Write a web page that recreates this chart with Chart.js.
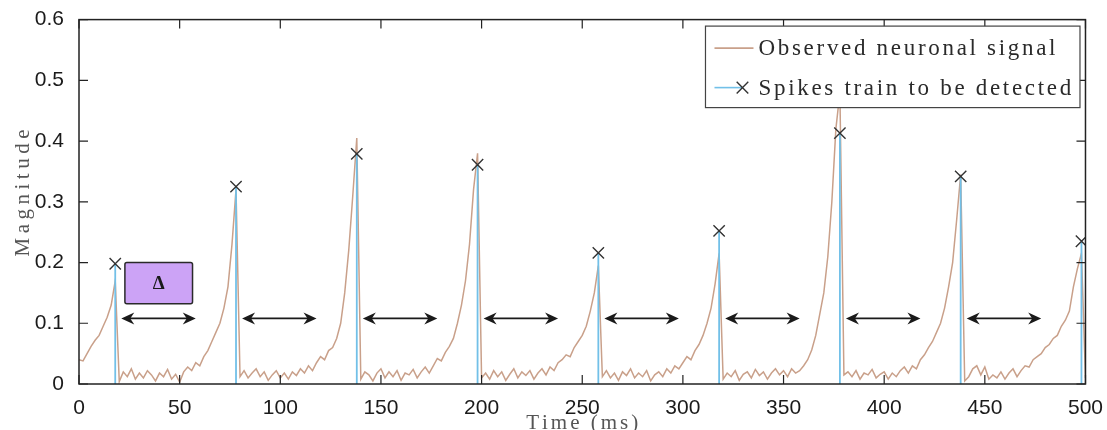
<!DOCTYPE html>
<html>
<head>
<meta charset="utf-8">
<script src="https://cdn.jsdelivr.net/npm/chart.js@4.4.1/dist/chart.umd.min.js"></script>
<style>
  body { margin: 0; background: #fff; }
  #wrap { width: 1107px; height: 430px; }
</style>
</head>
<body>
<div id="wrap"><canvas id="chart" width="1107" height="430"></canvas></div>
<script>
//sampling step of the recorded signal (ms)
const sampleStep = 2;
//observed neuronal signal, one value every 2 ms from 0 to 500 ms
const signalValues = [
  0.040, 0.038, 0.050, 0.062, 0.072, 0.080, 0.095, 0.110, 0.130, 0.170,
  0.004, 0.020, 0.012, 0.025, 0.008, 0.018, 0.010, 0.022, 0.015, 0.005,
  0.018, 0.012, 0.024, 0.008, 0.016, 0.003, 0.020, 0.028, 0.022, 0.035,
  0.030, 0.045, 0.055, 0.070, 0.085, 0.100, 0.125, 0.160, 0.230, 0.320,
  0.012, 0.022, 0.010, 0.018, 0.025, 0.012, 0.020, 0.006, 0.015, 0.022,
  0.010, 0.018, 0.008, 0.020, 0.014, 0.025, 0.018, 0.030, 0.022, 0.035,
  0.045, 0.040, 0.055, 0.060, 0.075, 0.100, 0.150, 0.220, 0.310, 0.405,
  0.008, 0.020, 0.015, 0.005, 0.018, 0.025, 0.010, 0.020, 0.012, 0.022,
  0.006, 0.018, 0.015, 0.024, 0.010, 0.020, 0.028, 0.018, 0.030, 0.042,
  0.038, 0.052, 0.062, 0.075, 0.100, 0.130, 0.170, 0.230, 0.320, 0.380,
  0.010, 0.018, 0.008, 0.022, 0.012, 0.020, 0.006, 0.016, 0.025, 0.010,
  0.020, 0.014, 0.022, 0.008, 0.018, 0.025, 0.015, 0.028, 0.022, 0.035,
  0.040, 0.048, 0.045, 0.060, 0.070, 0.080, 0.095, 0.120, 0.150, 0.195,
  0.012, 0.022, 0.010, 0.018, 0.006, 0.020, 0.014, 0.025, 0.010, 0.018,
  0.012, 0.022, 0.005, 0.015, 0.020, 0.012, 0.025, 0.018, 0.030, 0.025,
  0.035, 0.045, 0.040, 0.055, 0.065, 0.080, 0.100, 0.125, 0.165, 0.215,
  0.008, 0.018, 0.012, 0.022, 0.006, 0.016, 0.020, 0.010, 0.024, 0.014,
  0.020, 0.008, 0.018, 0.025, 0.015, 0.022, 0.012, 0.025, 0.018, 0.022,
  0.030, 0.040, 0.056, 0.080, 0.115, 0.150, 0.210, 0.300, 0.420, 0.480,
  0.015, 0.020, 0.012, 0.022, 0.008, 0.018, 0.015, 0.024, 0.010, 0.016,
  0.020, 0.008, 0.018, 0.012, 0.022, 0.028, 0.018, 0.030, 0.025, 0.040,
  0.048, 0.060, 0.070, 0.085, 0.100, 0.125, 0.160, 0.200, 0.270, 0.345,
  0.005, 0.012, 0.025, 0.030, 0.015, 0.028, 0.008, 0.015, 0.010, 0.020,
  0.008, 0.018, 0.025, 0.012, 0.022, 0.030, 0.028, 0.040, 0.045, 0.050,
  0.060, 0.065, 0.075, 0.080, 0.095, 0.105, 0.120, 0.160, 0.190, 0.215,
  0.010,
];
//detected spikes (time in ms, magnitude)
const spikeTimes = [18, 78, 138, 198, 258, 318, 378, 438, 498];
const spikeHeights = [0.198, 0.325, 0.379, 0.361, 0.216, 0.252, 0.413, 0.342, 0.235];
//tick labels
const xTickValues = [0, 50, 100, 150, 200, 250, 300, 350, 400, 450, 500];
const yTickValues = [0, 0.1, 0.2, 0.3, 0.4, 0.5, 0.6];
const seriesNames = ["Observed neuronal signal", "Spikes train to be detected"];

const brown = "#c9a08a";
const blue = "#72c0e8";
const markColor = "#333333";
const serif = "'Liberation Serif', 'Times New Roman', serif";
const sans = "'Liberation Sans', Arial, sans-serif";

//points for the chart
const signalPoints = signalValues.map((v, i) => ({ x: i * sampleStep, y: v }));
const spikePoints = [];
spikeTimes.forEach((t, i) => {
  spikePoints.push({ x: t, y: 0 }, { x: t, y: spikeHeights[i] }, { x: t, y: 0 }, { x: t, y: null });
});

//draw text char by char with extra letter spacing (latex look)
function spacedText(ctx, text, x, y, spacing, align) {
  const chars = [...text];
  const widths = chars.map((ch) => ctx.measureText(ch).width);
  const total = widths.reduce((a, b) => a + b, 0) + spacing * (chars.length - 1);
  let cx = align === "center" ? x - total / 2 : x;
  ctx.textAlign = "left";
  chars.forEach((ch, i) => {
    ctx.fillText(ch, cx, y);
    cx += widths[i] + spacing;
  });
}

function drawCross(ctx, x, y, r) {
  ctx.beginPath();
  ctx.moveTo(x - r, y - r); ctx.lineTo(x + r, y + r);
  ctx.moveTo(x - r, y + r); ctx.lineTo(x + r, y - r);
  ctx.stroke();
}

function arrowHead(ctx, tipX, y, dir) {
  ctx.beginPath();
  ctx.moveTo(tipX, y);
  ctx.lineTo(tipX + dir * 13, y - 6);
  ctx.lineTo(tipX + dir * 9, y);
  ctx.lineTo(tipX + dir * 13, y + 6);
  ctx.closePath();
  ctx.fill();
}

const decorations = {
  id: "decorations",
  afterDatasetsDraw(chart) {
    const { ctx, chartArea: a, scales } = chart;
    const xs = scales.x, ys = scales.y;
    ctx.save();

    //axes box and inward ticks
    ctx.strokeStyle = "#222";
    ctx.lineWidth = 1.5;
    ctx.strokeRect(a.left, a.top, a.right - a.left, a.bottom - a.top);
    ctx.lineWidth = 1.2;
    ctx.beginPath();
    xTickValues.forEach((v) => {
      const px = xs.getPixelForValue(v);
      ctx.moveTo(px, a.bottom); ctx.lineTo(px, a.bottom - 9);
      ctx.moveTo(px, a.top); ctx.lineTo(px, a.top + 9);
    });
    yTickValues.forEach((v) => {
      const py = ys.getPixelForValue(v);
      ctx.moveTo(a.left, py); ctx.lineTo(a.left + 9, py);
      ctx.moveTo(a.right, py); ctx.lineTo(a.right - 9, py);
    });
    ctx.stroke();

    //double arrows between consecutive spikes
    const ay = ys.getPixelForValue(0.108);
    ctx.strokeStyle = "#1a1a1a";
    ctx.fillStyle = "#1a1a1a";
    ctx.lineWidth = 1.8;
    spikeTimes.slice(0, -1).forEach((t) => {
      const x0 = xs.getPixelForValue(t + 3);
      const x1 = xs.getPixelForValue(t + 40);
      ctx.beginPath();
      ctx.moveTo(x0 + 8, ay); ctx.lineTo(x1 - 8, ay);
      ctx.stroke();
      arrowHead(ctx, x0, ay, 1);
      arrowHead(ctx, x1, ay, -1);
    });

    //delta box
    const bx0 = xs.getPixelForValue(22.8), bx1 = xs.getPixelForValue(56.4);
    const by0 = ys.getPixelForValue(0.2), by1 = ys.getPixelForValue(0.132);
    ctx.beginPath();
    ctx.roundRect(bx0, by0, bx1 - bx0, by1 - by0, 2);
    ctx.fillStyle = "#cca3f6";
    ctx.fill();
    ctx.strokeStyle = "#2a2a2a";
    ctx.lineWidth = 1.5;
    ctx.stroke();
    ctx.fillStyle = "#1a1a1a";
    ctx.font = "bold 19px " + serif;
    ctx.textAlign = "center";
    ctx.textBaseline = "middle";
    ctx.fillText("\u0394", (bx0 + bx1) / 2, (by0 + by1) / 2 + 1);

    //legend box
    const lx = a.right - 380, ly = a.top + 6.5, lw = 374.5, lh = 81.5;
    ctx.fillStyle = "#fff";
    ctx.fillRect(lx, ly, lw, lh);
    ctx.strokeStyle = "#444";
    ctx.lineWidth = 1.2;
    ctx.strokeRect(lx, ly, lw, lh);
    const row1 = ly + 22, row2 = ly + 61.5;
    ctx.lineWidth = 1.6;
    ctx.strokeStyle = brown;
    ctx.beginPath(); ctx.moveTo(lx + 9, row1); ctx.lineTo(lx + 48, row1); ctx.stroke();
    ctx.strokeStyle = blue;
    ctx.beginPath(); ctx.moveTo(lx + 9, row2); ctx.lineTo(lx + 37, row2); ctx.stroke();
    ctx.strokeStyle = markColor;
    ctx.lineWidth = 1.4;
    drawCross(ctx, lx + 37, row2, 5.8);
    ctx.font = "23px " + serif;
    ctx.fillStyle = "#2a2a2a";
    ctx.textBaseline = "alphabetic";
    const w0 = [...seriesNames[0]].reduce((s, ch) => s + ctx.measureText(ch).width, 0);
    const spacing = (297 - w0) / (seriesNames[0].length - 1);
    spacedText(ctx, seriesNames[0], lx + 53, row1 + 7, spacing, "left");
    spacedText(ctx, seriesNames[1], lx + 53, row2 + 7, spacing, "left");

    ctx.restore();
  },
  afterDraw(chart) {
    const { ctx, chartArea: a } = chart;
    ctx.save();
    ctx.font = "21px " + serif;
    ctx.fillStyle = "#555";
    ctx.textBaseline = "alphabetic";
    spacedText(ctx, "Time (ms)", (a.left + a.right) / 2, 429, 3, "center");
    ctx.translate(29, 193);
    ctx.rotate(-Math.PI / 2);
    spacedText(ctx, "Magnitude", 0, 0, 4.5, "center");
    ctx.restore();
  },
};

const myChart = new Chart(document.getElementById("chart"), {
  type: "line",
  data: {
    datasets: [
      {
        label: seriesNames[1],
        data: spikePoints,
        borderColor: blue,
        borderWidth: 1.8,
        spanGaps: false,
        pointStyle: "crossRot",
        pointRadius: (c) => (c.dataIndex % 4 === 1 ? 8 : 0),
        pointBorderColor: markColor,
        pointBorderWidth: 1.4,
      },
      {
        label: seriesNames[0],
        data: signalPoints,
        borderColor: brown,
        borderWidth: 1.5,
        pointRadius: 0,
        tension: 0,
      },
    ],
  },
  options: {
    responsive: false,
    animation: false,
    layout: { padding: { top: 18, right: 20, left: 0, bottom: 0 } },
    scales: {
      x: {
        type: "linear",
        min: 0,
        max: 500,
        afterBuildTicks: (s) => { s.ticks = xTickValues.map((v) => ({ value: v })); },
        afterFit: (s) => { s.height = 46; },
        grid: { display: false },
        border: { display: false },
        ticks: {
          color: "#1a1a1a",
          font: { family: sans, size: 21 },
          padding: 4,
          maxRotation: 0,
          callback: (v) => String(v),
        },
      },
      y: {
        min: 0,
        max: 0.6,
        afterBuildTicks: (s) => { s.ticks = yTickValues.map((v) => ({ value: v })); },
        afterFit: (s) => { s.width = 79; },
        grid: { display: false },
        border: { display: false },
        ticks: {
          color: "#1a1a1a",
          font: { family: sans, size: 21 },
          padding: 7,
          callback: (v) => (v === 0 ? "0" : v.toFixed(1)),
        },
      },
    },
    plugins: {
      legend: { display: false },
      tooltip: { enabled: false },
    },
  },
  plugins: [decorations],
});
</script>
</body>
</html>
